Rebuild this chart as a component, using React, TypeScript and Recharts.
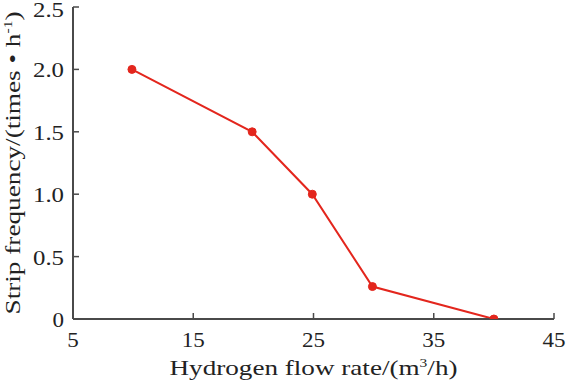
import React from 'react';
import { LineChart, Line, XAxis, YAxis } from 'recharts';

const flowRates = [9.9, 19.9, 24.9, 29.9, 40];
const stripFrequency = [2.0, 1.5, 1.0, 0.26, 0.0];
const xTicks = [5, 15, 25, 35, 45];
const yTicks = [0, 0.5, 1.0, 1.5, 2.0, 2.5];

const data = flowRates.map((x, i) => ({ x, y: stripFrequency[i] }));

const FONT = '"Liberation Serif", "Times New Roman", serif';
const AXIS = '#4a4a4a';
const RED = '#e3261d';
const TXT = '#222';

const labelWidth = (s: string) => {
  let w = 0;
  for (const c of s) w += c === '.' ? 8 : 11.5;
  return w;
};

const XTick = (props: any) => {
  const { x, y, payload } = props;
  const s = String(payload.value);
  return (
    <text x={x} y={y + 15} textAnchor="middle" fontFamily={FONT} fontSize={21} fill={TXT}
      textLength={labelWidth(s)} lengthAdjust="spacingAndGlyphs">
      {s}
    </text>
  );
};

const YTick = (props: any) => {
  const { x, y, payload } = props;
  const v = payload.value as number;
  const s = v === 0 ? '0' : v.toFixed(1);
  return (
    <text x={x} y={y + 8} textAnchor="end" fontFamily={FONT} fontSize={20.5} fill={TXT}
      textLength={labelWidth(s)} lengthAdjust="spacingAndGlyphs">
      {s}
    </text>
  );
};

const XTitle = (props: any) => {
  const vb = props.viewBox;
  const cx = vb.x + vb.width / 2;
  return (
    <text x={cx} y={375} textAnchor="middle" fontFamily={FONT} fontSize={21} fill={TXT}
      textLength={288} lengthAdjust="spacingAndGlyphs">
      Hydrogen flow rate/(m<tspan dy={-8} fontSize={12}>3</tspan>
      <tspan dy={8}>/h)</tspan>
    </text>
  );
};

const YTitle = (props: any) => {
  const vb = props.viewBox;
  const cy = vb.y + vb.height / 2;
  const x = 20;
  return (
    <text x={x} y={cy} transform={`rotate(-90, ${x}, ${cy})`} textAnchor="middle" fontFamily={FONT} fontSize={21} fill={TXT}
      textLength={303} lengthAdjust="spacingAndGlyphs">
      Strip frequency/(times • h<tspan dy={-8} fontSize={12}>-1</tspan>
      <tspan dy={8}>)</tspan>
    </text>
  );
};

export default function App() {
  return (
    <div style={{ position: 'absolute', left: 0, top: 0, width: 567, height: 383, background: '#fff' }}>
      <LineChart width={567} height={383} data={data} margin={{ top: 7, right: 13, bottom: 0, left: 0 }}>
        <XAxis
          dataKey="x"
          type="number"
          domain={[5, 45]}
          ticks={xTicks}
          allowDataOverflow
          height={64}
          tickSize={-6}
          tickMargin={19}
          axisLine={{ stroke: AXIS, strokeWidth: 2 }}
          tickLine={{ stroke: AXIS, strokeWidth: 1.5 }}
          tick={<XTick />}
          label={<XTitle />}
        />
        <XAxis
          xAxisId="top"
          dataKey="x"
          type="number"
          domain={[5, 45]}
          orientation="top"
          height={0}
          tick={false}
          tickLine={false}
          axisLine={{ stroke: AXIS, strokeWidth: 2 }}
        />
        <YAxis
          dataKey="y"
          type="number"
          domain={[0, 2.5]}
          ticks={yTicks}
          allowDataOverflow
          width={73}
          tickSize={-6}
          tickMargin={15}
          axisLine={{ stroke: AXIS, strokeWidth: 2 }}
          tickLine={{ stroke: AXIS, strokeWidth: 1.5 }}
          tick={<YTick />}
          label={<YTitle />}
        />
        <YAxis
          yAxisId="right"
          dataKey="y"
          type="number"
          domain={[0, 2.5]}
          orientation="right"
          width={0}
          tick={false}
          tickLine={false}
          axisLine={{ stroke: AXIS, strokeWidth: 2 }}
        />
        <Line
          dataKey="y"
          stroke={RED}
          strokeWidth={2}
          dot={{ r: 4, fill: RED, stroke: RED, strokeWidth: 1 }}
          isAnimationActive={false}
        />
      </LineChart>
    </div>
  );
}
